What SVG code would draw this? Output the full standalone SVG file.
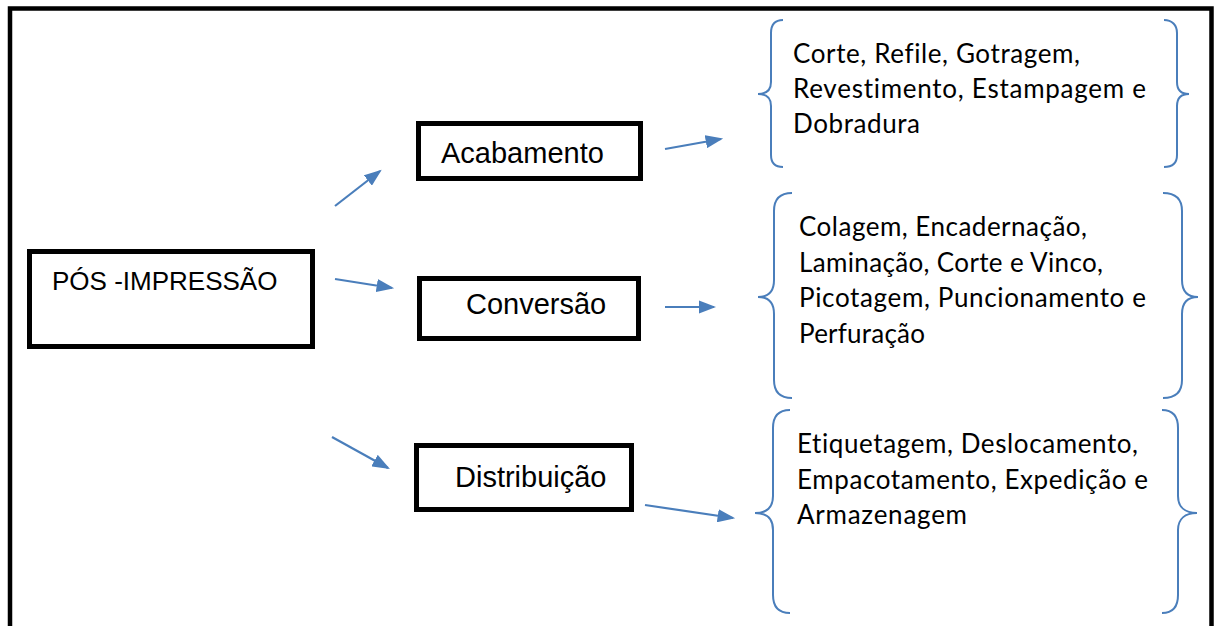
<svg xmlns="http://www.w3.org/2000/svg" width="1214" height="626" viewBox="0 0 1214 626">
<style>
.box{fill:#fff;stroke:#000;stroke-width:5}
.lbl{font-family:"Liberation Sans",Arial,sans-serif;fill:#000}
.br{fill:none;stroke:#4A7EBB;stroke-width:2}
.txt{font-family:Lato,"Open Sans",sans-serif;font-size:26px;fill:#000;font-variant-ligatures:none}
.con{stroke:#4A7EBB;stroke-width:2.2;fill:none;marker-end:url(#ah)}
</style>
<defs>
<marker id="ah" markerWidth="8" markerHeight="6" refX="7" refY="3" orient="auto" markerUnits="strokeWidth">
<path d="M0,0 L8,3 L0,6 Z" fill="#4A7EBB"/>
</marker>
</defs>
<rect x="0" y="0" width="1214" height="626" fill="#fff"/>
<rect id="frame" x="10" y="8.5" width="1201.5" height="700" fill="none" stroke="#000" stroke-width="4.5"/>
<g id="pos">
<rect class="box" x="29.5" y="251.5" width="283" height="95"/>
<text class="lbl" x="52" y="290" font-size="26">PÓS -IMPRESSÃO</text>
</g>
<g id="acabamento">
<rect class="box" x="418.5" y="123.5" width="222" height="55"/>
<text class="lbl" x="441" y="163" font-size="29">Acabamento</text>
</g>
<g id="conversao">
<rect class="box" x="419.5" y="278.5" width="219" height="60"/>
<text class="lbl" x="466" y="314" font-size="29">Conversão</text>
</g>
<g id="distribuicao">
<rect class="box" x="416.5" y="445.5" width="215" height="64"/>
<text class="lbl" x="455" y="487" font-size="29">Distribuição</text>
</g>
<g id="brace1">
<path class="br" d="M783,20 C775,20 771,25 771,33 L771,82 C771,90 767,94 758,94 C767,94 771,98 771,106 L771,155 C771,163 775,167 783,167"/>
<path class="br" d="M1164,20 C1172,20 1177,25 1177,33 L1177,82 C1177,90 1181,94 1189,94 C1181,94 1177,98 1177,106 L1177,155 C1177,163 1172,167 1164,167"/>
<text class="txt" x="793" y="63" textLength="287">Corte, Refile, Gotragem,</text>
<text class="txt" x="793" y="98" textLength="353">Revestimento, Estampagem e</text>
<text class="txt" x="793" y="133" textLength="127">Dobradura</text>
</g>
<g id="brace2">
<path class="br" d="M792,193 C780,193 774,199 774,211 L774,280 C774,291 769,297 758,297 C769,297 774,303 774,314 L774,380 C774,392 780,398 792,398"/>
<path class="br" d="M1163,193 C1175,193 1182,199 1182,211 L1182,280 C1182,291 1187,297 1198,297 C1187,297 1182,303 1182,314 L1182,380 C1182,392 1175,398 1163,398"/>
<text class="txt" x="799" y="236" textLength="288">Colagem, Encadernação,</text>
<text class="txt" x="799" y="272" textLength="304">Laminação, Corte e Vinco,</text>
<text class="txt" x="799" y="307" textLength="347">Picotagem, Puncionamento e</text>
<text class="txt" x="799" y="343" textLength="126">Perfuração</text>
</g>
<g id="brace3">
<path class="br" d="M790,410 C779,410 773,416 773,428 L773,496 C773,507 767,513 755,513 C767,513 773,519 773,530 L773,595 C773,607 779,613 790,613"/>
<path class="br" d="M1162,410 C1173,410 1178,416 1178,428 L1178,496 C1178,507 1185,513 1197,513 C1185,513 1178,519 1178,530 L1178,595 C1178,607 1173,613 1162,613"/>
<text class="txt" x="797" y="453" textLength="341">Etiquetagem, Deslocamento,</text>
<text class="txt" x="797" y="489" textLength="351">Empacotamento, Expedição e</text>
<text class="txt" x="797" y="524" textLength="170">Armazenagem</text>
</g>
<g id="connectors">
<line class="con" x1="335" y1="206" x2="380" y2="171"/>
<line class="con" x1="665" y1="149" x2="721" y2="139"/>
<line class="con" x1="335" y1="279" x2="392" y2="288"/>
<line class="con" x1="665" y1="307" x2="714" y2="307"/>
<line class="con" x1="332" y1="437" x2="388" y2="468"/>
<line class="con" x1="645" y1="505" x2="733" y2="518"/>
</g>
</svg>
